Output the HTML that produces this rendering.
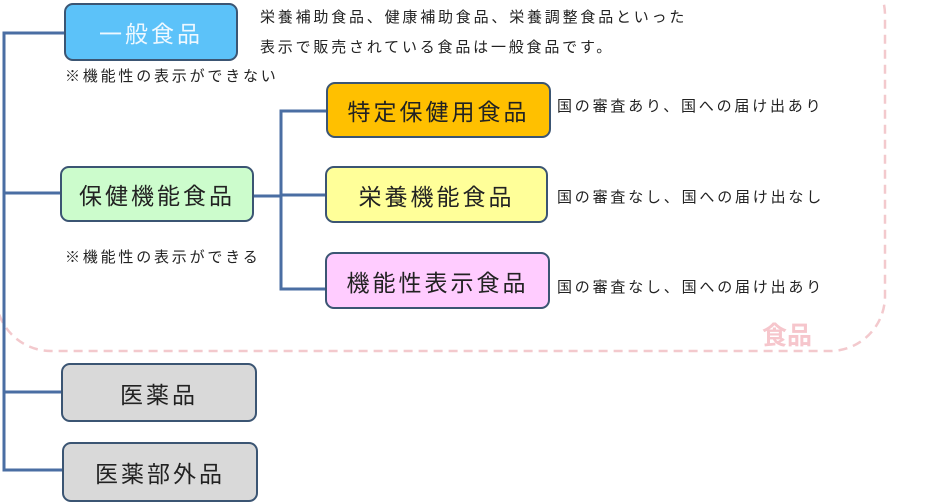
<!DOCTYPE html>
<html><head><meta charset="utf-8"><style>
body{margin:0;width:926px;height:488px;overflow:hidden;background:#fff;position:relative;font-family:"Liberation Sans","Noto Sans CJK JP",sans-serif;color:#222}
.b{position:absolute;box-sizing:border-box;border:2px solid #3b5573;border-radius:9px;display:flex;align-items:center;justify-content:center;font-size:23px;letter-spacing:3px;color:#222}
.t{position:absolute;font-size:15px;letter-spacing:2.8px;color:#222;white-space:nowrap;line-height:1}
</style></head><body>
<svg width="926" height="488" style="position:absolute;left:0;top:0">
<rect x="-4" y="-40" width="889" height="391" rx="55" fill="none" stroke="#f3c9cd" stroke-width="2.5" stroke-dasharray="9,6"/>
<g stroke="#4a6ea3" stroke-width="3" fill="none">
<path d="M64 33H4V470H62M4 193H60M4 392H61"/>
<path d="M253 196H281M326 111H281V289H326M281 195H326"/>
</g>
</svg>
<div style="position:absolute;left:762px;top:316px;font-size:25px;font-weight:bold;color:#f6c6cc">食品</div>
<div class="b" style="left:64px;top:3px;width:174px;height:58px;background:#5cc2f9;color:#eef8ff">一般食品</div>
<div class="b" style="left:60px;top:166px;width:194px;height:56px;background:#ccfccc">保健機能食品</div>
<div class="b" style="left:326px;top:82px;width:225px;height:56px;background:#ffc000">特定保健用食品</div>
<div class="b" style="left:325px;top:166px;width:223px;height:57px;background:#ffff99">栄養機能食品</div>
<div class="b" style="left:325px;top:252px;width:225px;height:57px;background:#ffccff">機能性表示食品</div>
<div class="b" style="left:61px;top:363px;width:196px;height:59px;background:#d9d9d9">医薬品</div>
<div class="b" style="left:62px;top:442px;width:196px;height:60px;background:#d9d9d9">医薬部外品</div>
<div class="t" style="left:260px;top:10px">栄養補助食品、健康補助食品、栄養調整食品といった</div>
<div class="t" style="left:260px;top:40px">表示で販売されている食品は一般食品です。</div>
<div class="t" style="left:65px;top:69px">※機能性の表示ができない</div>
<div class="t" style="left:65px;top:250px">※機能性の表示ができる</div>
<div class="t" style="left:557px;top:99px">国の審査あり、国への届け出あり</div>
<div class="t" style="left:557px;top:190px">国の審査なし、国への届け出なし</div>
<div class="t" style="left:557px;top:280px">国の審査なし、国への届け出あり</div>
</body></html>
